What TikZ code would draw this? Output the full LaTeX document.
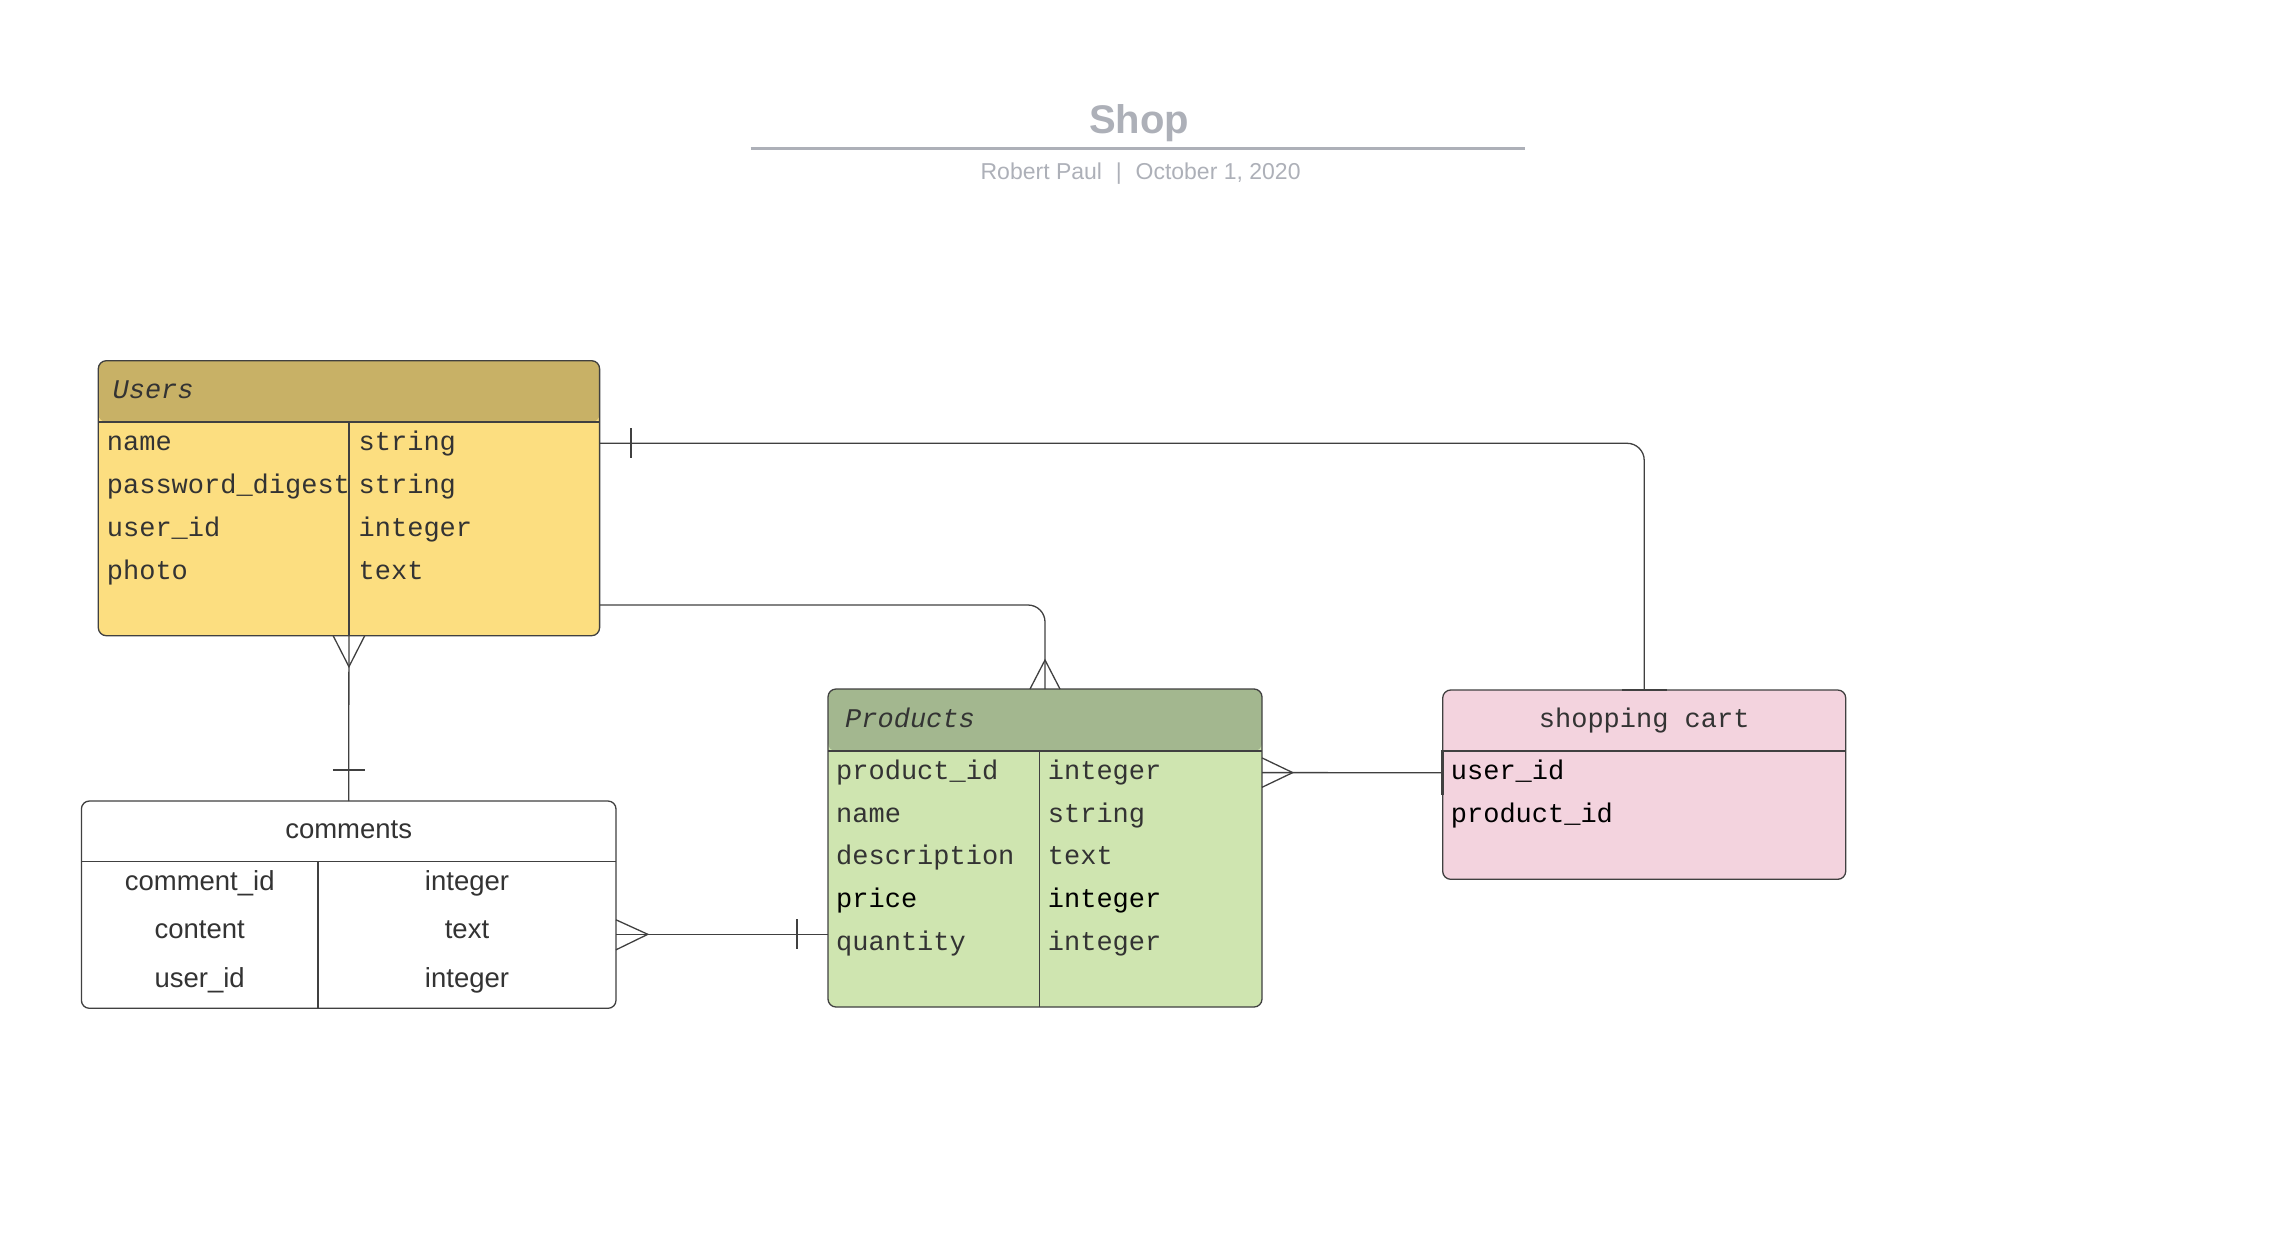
\documentclass[tikz,border=0pt]{standalone}
\usepackage{fontspec}
\setmainfont{Liberation Sans}
\setsansfont{Liberation Sans}
\setmonofont{Liberation Mono}
\usetikzlibrary{calc}

\definecolor{usershead}{HTML}{C8B166}
\definecolor{usersbody}{HTML}{FCDE80}
\definecolor{prodhead}{HTML}{A3B78F}
\definecolor{prodbody}{HTML}{CFE5B0}
\definecolor{cartbody}{HTML}{F3D3DE}
\definecolor{edge}{HTML}{404040}
\definecolor{ink}{HTML}{333333}
\definecolor{titlegray}{HTML}{ADB0B8}

\tikzset{
    tbl/.style={draw=edge, line width=1.3pt, rounded corners=8pt, inner sep=0pt, outer sep=0pt, anchor=north west},
    headfill/.style 2 args={path picture={\fill[#1] (path picture bounding box.north west) rectangle ([yshift=-#2]path picture bounding box.north east);}},
    rel/.style={draw=edge, line width=1.3pt},
    onebar/.style={draw=edge, line width=2.6pt},
    fld/.style={anchor=west, inner sep=0pt, text height=14.3pt, text depth=0pt, text=ink, font=\fontsize{27}{32}\selectfont\ttfamily},
    cfld/.style={fld, anchor=center, font=\fontsize{27.5}{32}\selectfont\sffamily},
}

\begin{document}
\begin{tikzpicture}[x=1pt,y=-1pt]
    \useasboundingbox (0,0) rectangle (2272,1248);

    % title
    \node[font=\fontsize{40}{48}\selectfont\bfseries, text=titlegray, anchor=base] (title) at (1139,133.3) {Shop};
    \draw[titlegray, line width=2.7pt] (750.5,148.3) -- (1525,148.3);
    \node[font=\fontsize{23}{27}\selectfont, text=titlegray, anchor=base] (byline) at (1140.6,179.3) {Robert Paul\hspace{0.6em}|\hspace{0.6em}October 1, 2020};

    % Users
    \node[tbl, fill=usersbody, headfill={usershead}{61.3pt}, minimum width=501.3pt, minimum height=275pt] (users) at (98.3,360.7) {};
    \draw[rel] ($(users.north west)+(0,61.3)$) -- ($(users.north east)+(0,61.3)$);
    \draw[rel] ($(users.north)+(0,61.3)$) -- (users.south);
    \node[fld, font=\fontsize{27}{32}\selectfont\ttfamily\itshape] (usershd) at (112.4,391.3) {Users};
    \foreach \f/\t [count=\i] in {name/string, password\_digest/string, user\_id/integer, photo/text}{
        \node[fld] (u\i) at (106.7,400.3+43*\i) {\f};
        \node[fld] at (358.5,400.3+43*\i) {\t};
    }

    % comments
    \node[tbl, fill=white, minimum width=534.6pt, minimum height=207.3pt] (comm) at (81.4,801) {};
    \draw[rel] ($(comm.north west)+(0,60.7)$) -- ($(comm.north east)+(0,60.7)$);
    \draw[rel] (318,861.7) -- (318,1008.3);
    \node[cfld] (commhd) at (348.7,831.3) {comments};
    \foreach \f/\t [count=\i] in {comment\_id/integer, content/text, user\_id/integer}{
        \node[cfld] (c\i) at (199.7,835+48.3*\i) {\f};
        \node[cfld] at (467,835+48.3*\i) {\t};
    }

    % Products
    \node[tbl, fill=prodbody, headfill={prodhead}{62pt}, minimum width=434pt, minimum height=318pt] (prod) at (828,689) {};
    \draw[rel] ($(prod.north west)+(0,62)$) -- ($(prod.north east)+(0,62)$);
    \draw[rel] (1039.7,751) -- (1039.7,1007);
    \node[fld, font=\fontsize{27}{32}\selectfont\ttfamily\itshape] (prodhd) at (845,720) {Products};
    \foreach \f/\t/\c [count=\i] in {product\_id/integer/ink, name/string/ink, description/text/ink, price/integer/black, quantity/integer/ink}{
        \node[fld, text=\c] (p\i) at (836,730+42.6*\i) {\f};
        \node[fld, text=\c] at (1047.7,730+42.6*\i) {\t};
    }

    % shopping cart
    \node[tbl, fill=cartbody, minimum width=403pt, minimum height=189.3pt] (cart) at (1442.7,690) {};
    \draw[rel] ($(cart.north west)+(0,61)$) -- ($(cart.north east)+(0,61)$);
    \node[fld, anchor=center] (carthd) at (1644.2,720.5) {shopping cart};
    \foreach \f [count=\i] in {user\_id, product\_id}{
        \node[fld, text=black] (s\i) at (1450.7,730.4+42.3*\i) {\f};
    }

    % relations
    \coordinate (uc) at (users.east |- u1);
    \draw[rel, rounded corners=17pt] (uc) -| (cart.north);
    \draw[rel] ($(uc)+(31.4,-15)$) -- ($(uc)+(31.4,15)$);
    \draw[onebar] ($(cart.north)+(-22.5,0)$) -- ($(cart.north)+(22.5,0)$);

    \coordinate (up) at ($(users.south east)+(0,-30.7)$);
    \draw[rel, rounded corners=17pt] (up) -| (prod.north);
    \draw[rel] ($(prod.north)+(-15,0)$) -- ($(prod.north)+(0,-29)$) -- ($(prod.north)+(15,0)$);

    \draw[rel] (users.south) -- (comm.north);
    \draw[rel] ($(users.south)+(-15.8,0)$) -- ($(users.south)+(0,31)$) -- ($(users.south)+(15.8,0)$);
    \draw[rel] ($(comm.north)+(-15.8,-31)$) -- ($(comm.north)+(15.8,-31)$);

    \coordinate (cp) at ($(comm.south east)+(0,-74)$);
    \draw[rel] (cp) -- (prod.west |- cp);
    \draw[rel] ($(cp)+(0,-14.5)$) -- ($(cp)+(31.8,0)$) -- ($(cp)+(0,15.5)$);
    \draw[rel] ($(prod.west |- cp)+(-31,-15)$) -- ($(prod.west |- cp)+(-31,15)$);

    \coordinate (pc) at (prod.east |- p1);
    \draw[rel] (pc) -- (cart.west |- s1);
    \draw[rel] ($(pc)+(0,-14.7)$) -- ($(pc)+(30.7,0)$) -- ($(pc)+(0,14.7)$);
    \draw[onebar] ($(cart.west |- s1)+(0,-22.5)$) -- ($(cart.west |- s1)+(0,22.5)$);
\end{tikzpicture}
\end{document}
